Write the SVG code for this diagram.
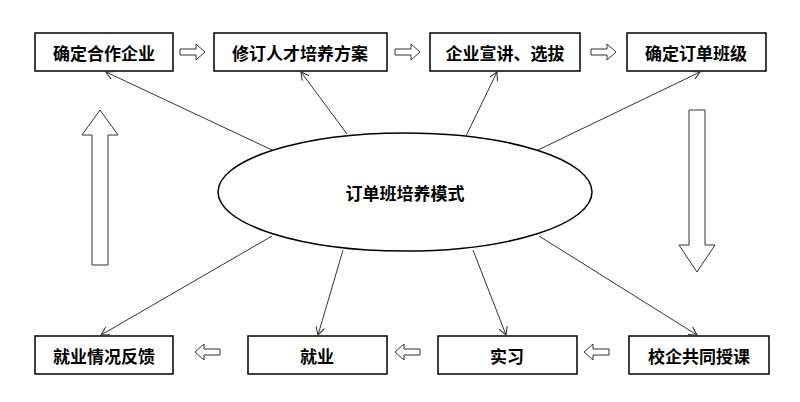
<svg xmlns="http://www.w3.org/2000/svg" width="800" height="402" viewBox="0 0 800 402">
<style>
.b{fill:#fff;stroke:#000;stroke-width:1.5}
.t{font-family:"Noto Sans CJK SC","Liberation Sans",sans-serif;font-size:17px;font-weight:bold;text-anchor:middle;dominant-baseline:central}
.c{stroke:#333;stroke-width:1;fill:none;marker-end:url(#a)}
.h{fill:#fff;stroke:#333;stroke-width:1}
</style>
<defs><marker id="a" viewBox="0 0 10 10" refX="9" refY="5" markerWidth="9" markerHeight="9" orient="auto" markerUnits="userSpaceOnUse"><path d="M0,0L9,5L0,10" fill="none" stroke="#333" stroke-width="1.2"/></marker></defs>
<rect width="800" height="402" fill="#fff"/>
<g id="n1"><rect class="b" x="35" y="33" width="138" height="38"/><text class="t" x="104" y="52">确定合作企业</text></g>
<g id="n2"><rect class="b" x="214" y="33" width="173" height="38"/><text class="t" x="300" y="52">修订人才培养方案</text></g>
<g id="n3"><rect class="b" x="430" y="33" width="150" height="38"/><text class="t" x="505" y="52">企业宣讲、选拔</text></g>
<g id="n4"><rect class="b" x="627" y="33" width="139" height="38"/><text class="t" x="696" y="52">确定订单班级</text></g>
<g id="n5"><rect class="b" x="35" y="336" width="138" height="38"/><text class="t" x="104" y="355">就业情况反馈</text></g>
<g id="n6"><rect class="b" x="248" y="336" width="139" height="38"/><text class="t" x="317" y="355">就业</text></g>
<g id="n7"><rect class="b" x="438" y="336" width="139" height="38"/><text class="t" x="507" y="355">实习</text></g>
<g id="n8"><rect class="b" x="629" y="336" width="140" height="38"/><text class="t" x="699" y="355">校企共同授课</text></g>
<g id="center"><ellipse class="b" cx="405" cy="192" rx="187" ry="59"/><text class="t" x="405" y="192">订单班培养模式</text></g>
<g id="connectors">
<line class="c" x1="272" y1="150" x2="106" y2="72"/>
<line class="c" x1="347" y1="134" x2="301" y2="72"/>
<line class="c" x1="466" y1="136" x2="497" y2="72"/>
<line class="c" x1="538" y1="150" x2="700" y2="72"/>
<line class="c" x1="272" y1="236" x2="101" y2="335"/>
<line class="c" x1="343" y1="250" x2="318" y2="335"/>
<line class="c" x1="473" y1="250" x2="506" y2="335"/>
<line class="c" x1="539" y1="236" x2="697" y2="335"/>
<path class="h" d="M180,49h16v-5l9,8l-9,8v-5h-16z"/>
<path class="h" d="M395,49h16v-5l9,8l-9,8v-5h-16z"/>
<path class="h" d="M591,49h16v-5l9,8l-9,8v-5h-16z"/>
<path class="h" d="M220,349h-16v-5l-9,8l9,8v-5h16z"/>
<path class="h" d="M420,349h-16v-5l-9,8l9,8v-5h16z"/>
<path class="h" d="M609,349h-16v-5l-9,8l9,8v-5h16z"/>
<path class="h" d="M92,265v-130h-10l18,-25l18,25h-10v130z"/>
<path class="h" d="M689,110v135h-10l18,27l18,-27h-10v-135z"/>
</g>
</svg>
